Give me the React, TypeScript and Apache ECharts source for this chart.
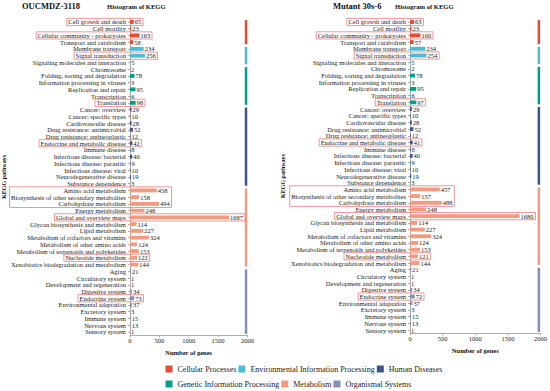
import React, { useEffect, useRef } from 'react';
import * as echarts from 'echarts';

const categories = [
  'Cell growth and death', 'Cell motility', 'Cellular community - prokaryotes', 'Transport and catabolism',
  'Membrane transport', 'Signal transduction', 'Signaling molecules and interaction',
  'Chromosome', 'Folding, sorting and degradation', 'Information processing in viruses', 'Replication and repair', 'Transcription', 'Translation',
  'Cancer: overview', 'Cancer: specific types', 'Cardiovascular disease', 'Drug resistance: antimicrobial', 'Drug resistance: antineoplastic',
  'Endocrine and metabolic disease', 'Immune disease', 'Infectious disease: bacterial', 'Infectious disease: parasitic', 'Infectious disease: viral',
  'Neurodegenerative disease', 'Substance dependence',
  'Amino acid metabolism', 'Biosynthesis of other secondary metabolites', 'Carbohydrate metabolism', 'Energy metabolism',
  'Global and overview maps', 'Glycan biosynthesis and metabolism', 'Lipid metabolism', 'Metabolism of cofactors and vitamins',
  'Metabolism of other amino acids', 'Metabolism of terpenoids and polyketides', 'Nucleotide metabolism', 'Xenobiotics biodegradation and metabolism',
  'Aging', 'Circulatory system', 'Development and regeneration', 'Digestive system', 'Endocrine system', 'Environmental adaptation',
  'Excretory system', 'Immune system', 'Nervous system', 'Sensory system',
];

const valuesA = [65, 23, 163, 58, 234, 256, 5, 2, 78, 3, 95, 6, 98, 29, 10, 28, 52, 12, 42, 8, 40, 9, 10, 19, 3,
  458, 158, 494, 248, 1687, 114, 227, 324, 124, 153, 122, 144, 21, 1, 1, 34, 73, 37, 3, 15, 13, 1];
const valuesB = [63, 23, 160, 57, 234, 254, 5, 2, 78, 3, 95, 6, 97, 29, 10, 28, 52, 12, 41, 8, 40, 9, 10, 19, 3,
  457, 157, 488, 248, 1680, 114, 227, 324, 124, 153, 121, 144, 21, 1, 1, 34, 72, 37, 3, 15, 13, 1];

const panelTitles = ['OUCMDZ-3118', 'Mutant 30s-6'];
const subTitle = 'Histogram of KEGG';

const groupNames = ['Cellular Processes', 'Environmental Information Processing', 'Genetic Information Processing',
  'Human Diseases', 'Metabolism', 'Organismal Systems'];
const groupColors = ['#E64B35', '#4DBBD5', '#00A087', '#3C5488', '#F39B7F', '#8491B4'];
const groupRanges = [[0, 3], [4, 6], [7, 12], [13, 24], [25, 36], [37, 46]];
const highlightRanges = [[0, 0], [2, 2], [5, 5], [12, 12], [18, 18], [25, 27], [29, 29], [35, 35], [41, 41]];

const FONT = 'Liberation Serif, Times New Roman, serif';
const FS = 6.5;

const groupOf = (i: number) => groupRanges.findIndex(([s, e]) => i >= s && i <= e);

const grids = [
  { left: 129.5, top: 18.6, width: 118, height: 316.7 },
  { left: 410, top: 18.65, width: 131, height: 314.7 },
];
const nameGaps = [118, 124];
const titleLefts = [[22, 107], [333, 395]];

export default function App() {
  const ref = useRef<HTMLDivElement>(null);
  useEffect(() => {
    if (!ref.current) return;
    const chart = echarts.init(ref.current, null, { renderer: 'svg' });
    const panels = [valuesA, valuesB];
    const series: any[] = [];
    panels.forEach((vals, p) => {
      groupNames.forEach((g, gi) => {
        series.push({
          type: 'bar',
          name: g,
          xAxisIndex: p,
          yAxisIndex: p,
          stack: 'total' + p,
          barWidth: '58%',
          itemStyle: { color: groupColors[gi] },
          label: {
            show: true, position: 'right', distance: 1, fontSize: FS, fontFamily: FONT, color: '#222',
            formatter: '{c}',
          },
          data: vals.map((v, i) => (groupOf(i) === gi ? v : '-')),
        });
      });
      series.push({
        type: 'custom',
        xAxisIndex: p,
        yAxisIndex: p,
        silent: true,
        data: groupRanges.map(([s, e], gi) => [1975, s, e, gi]),
        renderItem: (params: any, api: any) => {
          const xv = api.value(0);
          const s = api.value(1);
          const e = api.value(2);
          const gi = api.value(3);
          const p0 = api.coord([xv, s]);
          const p1 = api.coord([xv, e]);
          const band = api.size([0, 1])[1];
          return {
            type: 'rect',
            shape: { x: p0[0] - 1.25, y: p0[1] - band * 0.3, width: 2.5, height: p1[1] - p0[1] + band * 0.6 },
            style: { fill: groupColors[gi] },
          };
        },
      });
    });

    const option: any = {
      animation: false,
      backgroundColor: '#ffffff',
      textStyle: { fontFamily: FONT },
      title: panelTitles.flatMap((t, p) => [
        { text: t, left: titleLefts[p][0], top: 1.5, padding: 0, textStyle: { fontFamily: FONT, fontSize: 8.5, fontWeight: 'bold', color: '#111' } },
        { text: subTitle, left: titleLefts[p][1], top: 2.5, padding: 0, textStyle: { fontFamily: FONT, fontSize: 6.6, fontWeight: 'bold', color: '#111' } },
      ]),
      legend: [
        { data: [groupNames[0], groupNames[1], groupNames[3]], left: 165.5, top: 365, padding: 0, itemGap: 2, itemWidth: 7, itemHeight: 7, icon: 'rect',
          textStyle: { fontFamily: FONT, fontSize: 8, color: '#222' } },
        { data: [groupNames[2], groupNames[4], groupNames[5]], left: 165.5, top: 380, padding: 0, itemGap: 2, itemWidth: 7, itemHeight: 7, icon: 'rect',
          textStyle: { fontFamily: FONT, fontSize: 8, color: '#222' } },
      ],
      grid: grids.map((g) => ({ ...g, containLabel: false })),
      xAxis: grids.map((_, p) => ({
        type: 'value', gridIndex: p, min: 0, max: 2000, interval: 500,
        axisLine: { show: true, lineStyle: { color: '#999', width: 0.8 } },
        axisTick: { show: true, length: 2, lineStyle: { color: '#999', width: 0.8 } },
        splitLine: { show: false },
        axisLabel: { fontSize: FS, fontFamily: FONT, color: '#222', margin: 2, formatter: (v: number) => String(v) },
        name: 'Number of genes', nameLocation: 'middle', nameGap: 9,
        nameTextStyle: { fontFamily: FONT, fontSize: FS, fontWeight: 'bold', color: '#111' },
      })),
      yAxis: grids.map((_, p) => ({
        type: 'category', gridIndex: p, inverse: true, data: categories,
        axisLine: { show: true, lineStyle: { color: '#999', width: 0.8 } },
        axisTick: { show: true, length: 2, alignWithLabel: true, lineStyle: { color: '#999', width: 0.8 } },
        axisLabel: { interval: 0, fontSize: FS, fontFamily: FONT, color: '#222', margin: 4 },
        name: 'KEGG pathways', nameLocation: 'middle', nameGap: nameGaps[p], nameRotate: 90,
        nameTextStyle: { fontFamily: FONT, fontSize: 6, fontWeight: 'bold', color: '#111' },
      })),
      series,
    };
    chart.setOption(option);

    const canvas = document.createElement('canvas');
    const ctx = canvas.getContext('2d');
    if (ctx) {
      ctx.font = `${FS}px ${FONT}`;
      const boxes: any[] = [];
      panels.forEach((vals, p) => {
        highlightRanges.forEach(([s, e]) => {
          let left = Infinity;
          let right = -Infinity;
          const axisX = (chart.convertToPixel({ gridIndex: p } as any, [0, categories[s]]) as number[])[0];
          for (let i = s; i <= e; i++) {
            const w = ctx.measureText(categories[i]).width;
            left = Math.min(left, axisX - 4 - w - 1.5);
            const bx = (chart.convertToPixel({ gridIndex: p } as any, [vals[i], categories[i]]) as number[])[0];
            right = Math.max(right, bx + 1 + ctx.measureText(String(vals[i])).width + 1.8);
          }
          const y0 = (chart.convertToPixel({ gridIndex: p } as any, [0, categories[s]]) as number[])[1];
          const y1 = (chart.convertToPixel({ gridIndex: p } as any, [0, categories[e]]) as number[])[1];
          boxes.push({
            type: 'rect', silent: true, z: 10,
            shape: { x: left, y: y0 - 3.6, width: right - left, height: y1 - y0 + 7.2 },
            style: { fill: 'none', stroke: '#EE8A8A', lineWidth: 0.9 },
          });
        });
      });
      chart.setOption({ graphic: boxes });
    }
    return () => chart.dispose();
  }, []);
  return <div ref={ref} style={{ position: 'absolute', left: 0, top: 0, width: 550, height: 391 }} />;
}
